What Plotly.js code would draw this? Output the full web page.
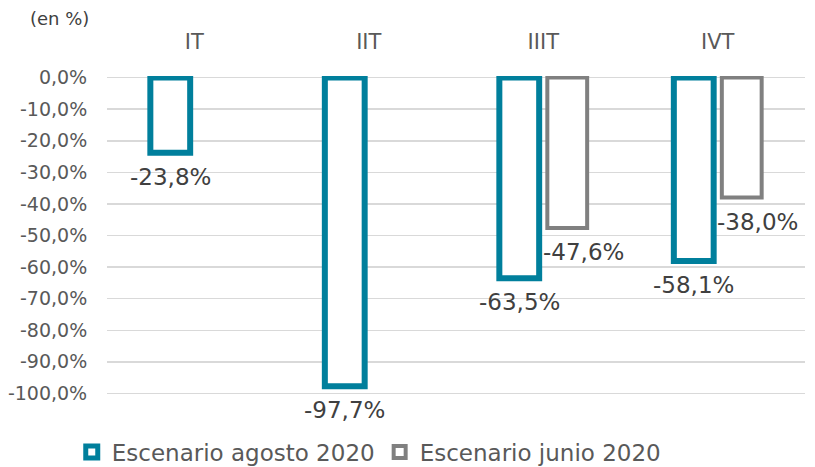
<!DOCTYPE html>
<html><head><meta charset="utf-8">
<script src="https://cdn.plot.ly/plotly-3.0.1.min.js"></script>
<style>html,body{margin:0;padding:0;background:#fff}#chart{width:815px;height:467px}</style>
</head><body><div id="chart"></div>
<script>
const categories = ['IT', 'IIT', 'IIIT', 'IVT'];
const agosto = [-23.8, -97.7, -63.5, -58.1];
const junio = [null, null, -47.6, -38.0];
const seriesNames = ['Escenario agosto 2020', 'Escenario junio 2020'];
const yTicks = [0, -10, -20, -30, -40, -50, -60, -70, -80, -90, -100];

const fmt = v => v === null ? '' : v.toFixed(1).replace('.', ',') + '%';
const FONT = 'DejaVu Sans';
const TEAL = '#007f9c', GRAY = '#808080';

const mk = (vals, name, color, lw) => ({
  type: 'bar', x: categories, y: vals, name: name,
  marker: {color: '#ffffff', line: {color: color, width: lw}},
  hoverinfo: 'none'
});

const data = [mk(agosto, seriesNames[0], TEAL, 6), mk(junio, seriesNames[1], GRAY, 4)];

const labelAnn = (vals, xshift) => vals.map((v, i) => v === null ? null : ({
  x: categories[i], y: v, xref: 'x', yref: 'y', text: fmt(v), showarrow: false,
  xshift: xshift, yshift: -24, xanchor: 'center', yanchor: 'middle',
  font: {family: FONT, size: 23, color: '#404040'}
})).filter(a => a);

const layout = {
  width: 815, height: 467,
  margin: {l: 107, r: 10, t: 76, b: 72, autoexpand: false},
  paper_bgcolor: '#fff', plot_bgcolor: '#fff',
  barmode: 'group', bargap: 0.45, bargroupgap: 0.17,
  showlegend: true,
  legend: {orientation: 'h', xref: 'paper', x: 0.375, xanchor: 'center',
    yref: 'container', y: 15 / 467, yanchor: 'middle',
    font: {family: FONT, size: 23, color: '#595959'}, itemwidth: 30},
  xaxis: {side: 'top', showgrid: false, zeroline: false, showline: false,
    tickfont: {family: FONT, size: 21, color: '#595959'}, ticks: 'outside', ticklen: 18, tickcolor: 'rgba(0,0,0,0)'},
  yaxis: {range: [-100.5, 0.5], tickvals: yTicks, ticktext: yTicks.map(fmt),
    showgrid: true, gridcolor: '#d9d9d9', gridwidth: 1.5, zeroline: false, showline: false,
    tickfont: {family: FONT, size: 19, color: '#595959'}, ticks: 'outside', ticklen: 15, tickcolor: 'rgba(0,0,0,0)'},
  annotations: [
    {text: '(en %)', xref: 'paper', yref: 'paper', x: (59 - 107) / 698, y: 1.18, xanchor: 'center', yanchor: 'middle',
      showarrow: false, font: {family: FONT, size: 18, color: '#404040'}},
    ...labelAnn(agosto, -24), ...labelAnn(junio, 40)
  ]
};

Plotly.newPlot('chart', data, layout, {displayModeBar: false, staticPlot: true});
</script></body></html>
